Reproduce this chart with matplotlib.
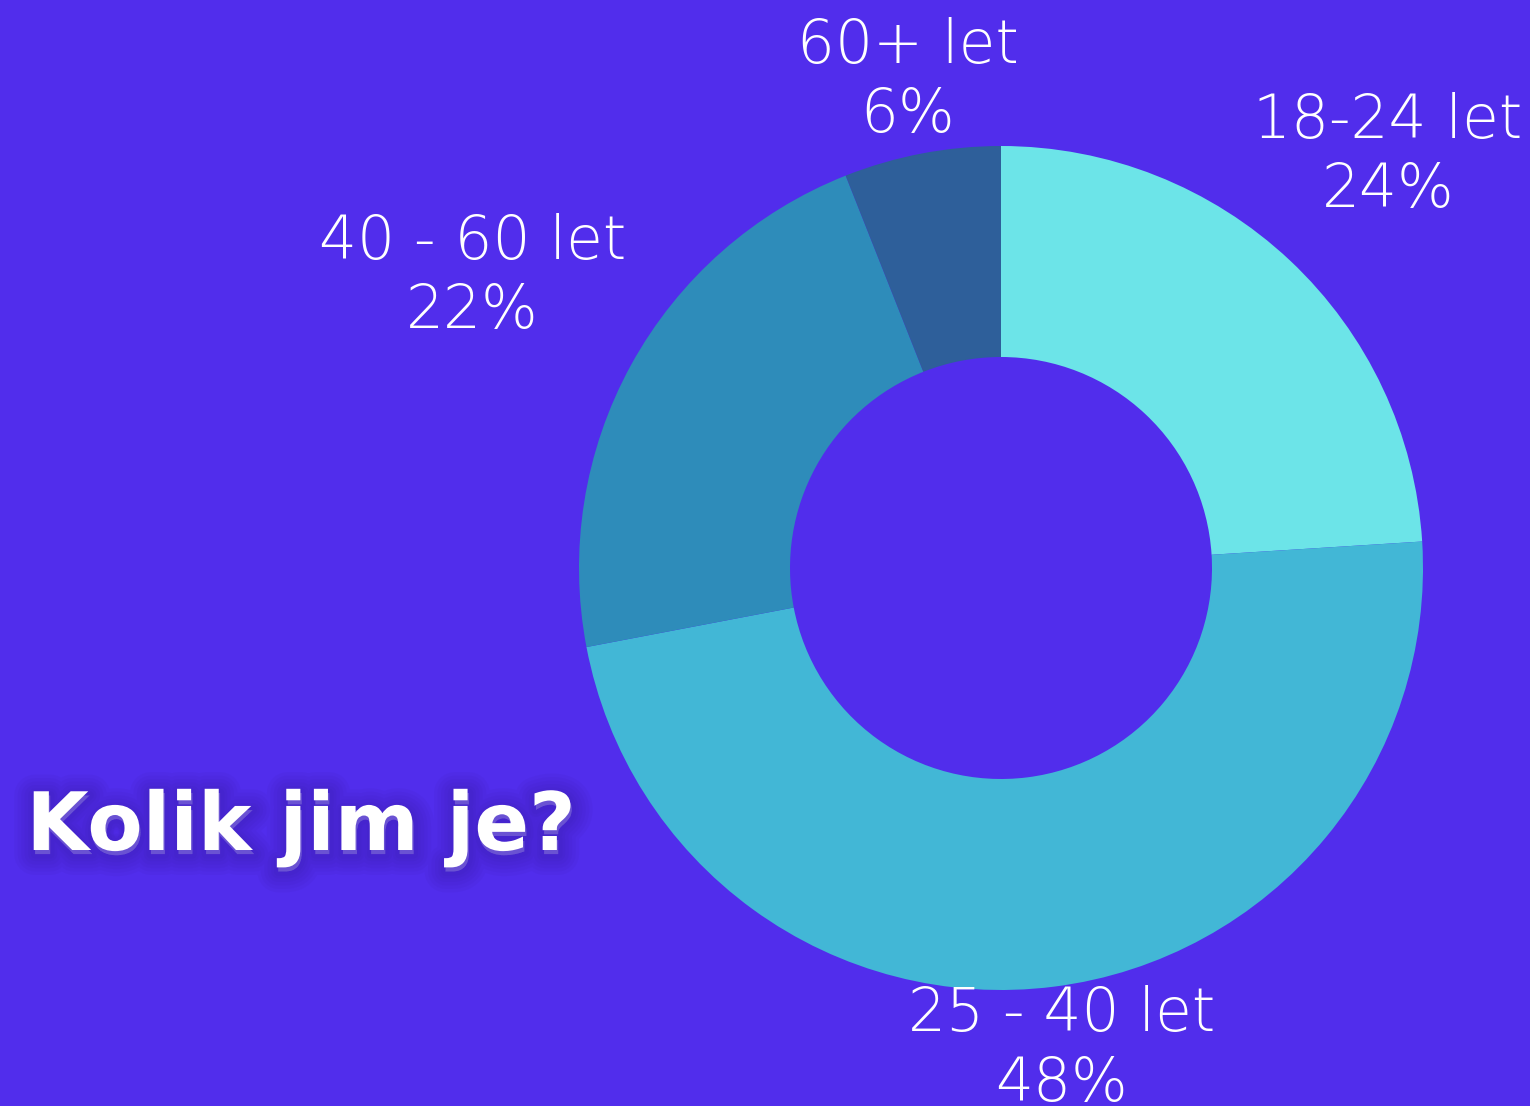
import numpy as np
import matplotlib
matplotlib.use("Agg")
import matplotlib.pyplot as plt
import matplotlib.patheffects as pe

categories = ["18-24 let", "25 - 40 let", "40 - 60 let", "60+ let"]
values = [24, 48, 22, 6]
pct_labels = ["24%", "48%", "22%", "6%"]
colors = ["#6CE4E8", "#42B7D6", "#2E8CBA", "#2E5F9A"]
label_dist = [1.34, 1.15, 1.43, 1.175]
title = "Kolik jim je?"
bg = "#512DEC"

W, H = 1530, 1106
fig = plt.figure(figsize=(W / 100, H / 100), dpi=100, facecolor=bg)
cx, cy, r = 1001, 568, 422
ax = fig.add_axes([(cx - r) / W, (H - cy - r) / H, 2 * r / W, 2 * r / H])
ax.set_facecolor(bg)
wedges, _ = ax.pie(values, colors=colors, startangle=90, counterclock=False,
                   radius=1.0, wedgeprops=dict(width=0.5, linewidth=0))
ax.set_xlim(-1, 1)
ax.set_ylim(-1, 1)
ax.set_aspect("equal")
ax.axis("off")

for w, cat, pct, d in zip(wedges, categories, pct_labels, label_dist):
    ang = np.deg2rad((w.theta1 + w.theta2) / 2)
    x, y = d * np.cos(ang), d * np.sin(ang)
    ax.text(x, y, f"{cat}\n{pct}", ha="center", va="center", color="white",
            fontsize=43, fontfamily="DejaVu Sans", fontweight="light",
            linespacing=1.22, clip_on=False)

shadow = [pe.Stroke(linewidth=lw, foreground="#2a1585", alpha=0.05, offset=(1, -3))
          for lw in (30, 25, 20, 15, 10, 6)]
shadow.append(pe.Normal())
fig.text(301 / W, 1 - 828 / H, title, ha="center", va="center", color="white",
         fontsize=58, fontfamily="DejaVu Sans", fontweight="bold",
         path_effects=shadow)

fig.savefig("out.png", dpi=100, facecolor=bg)
